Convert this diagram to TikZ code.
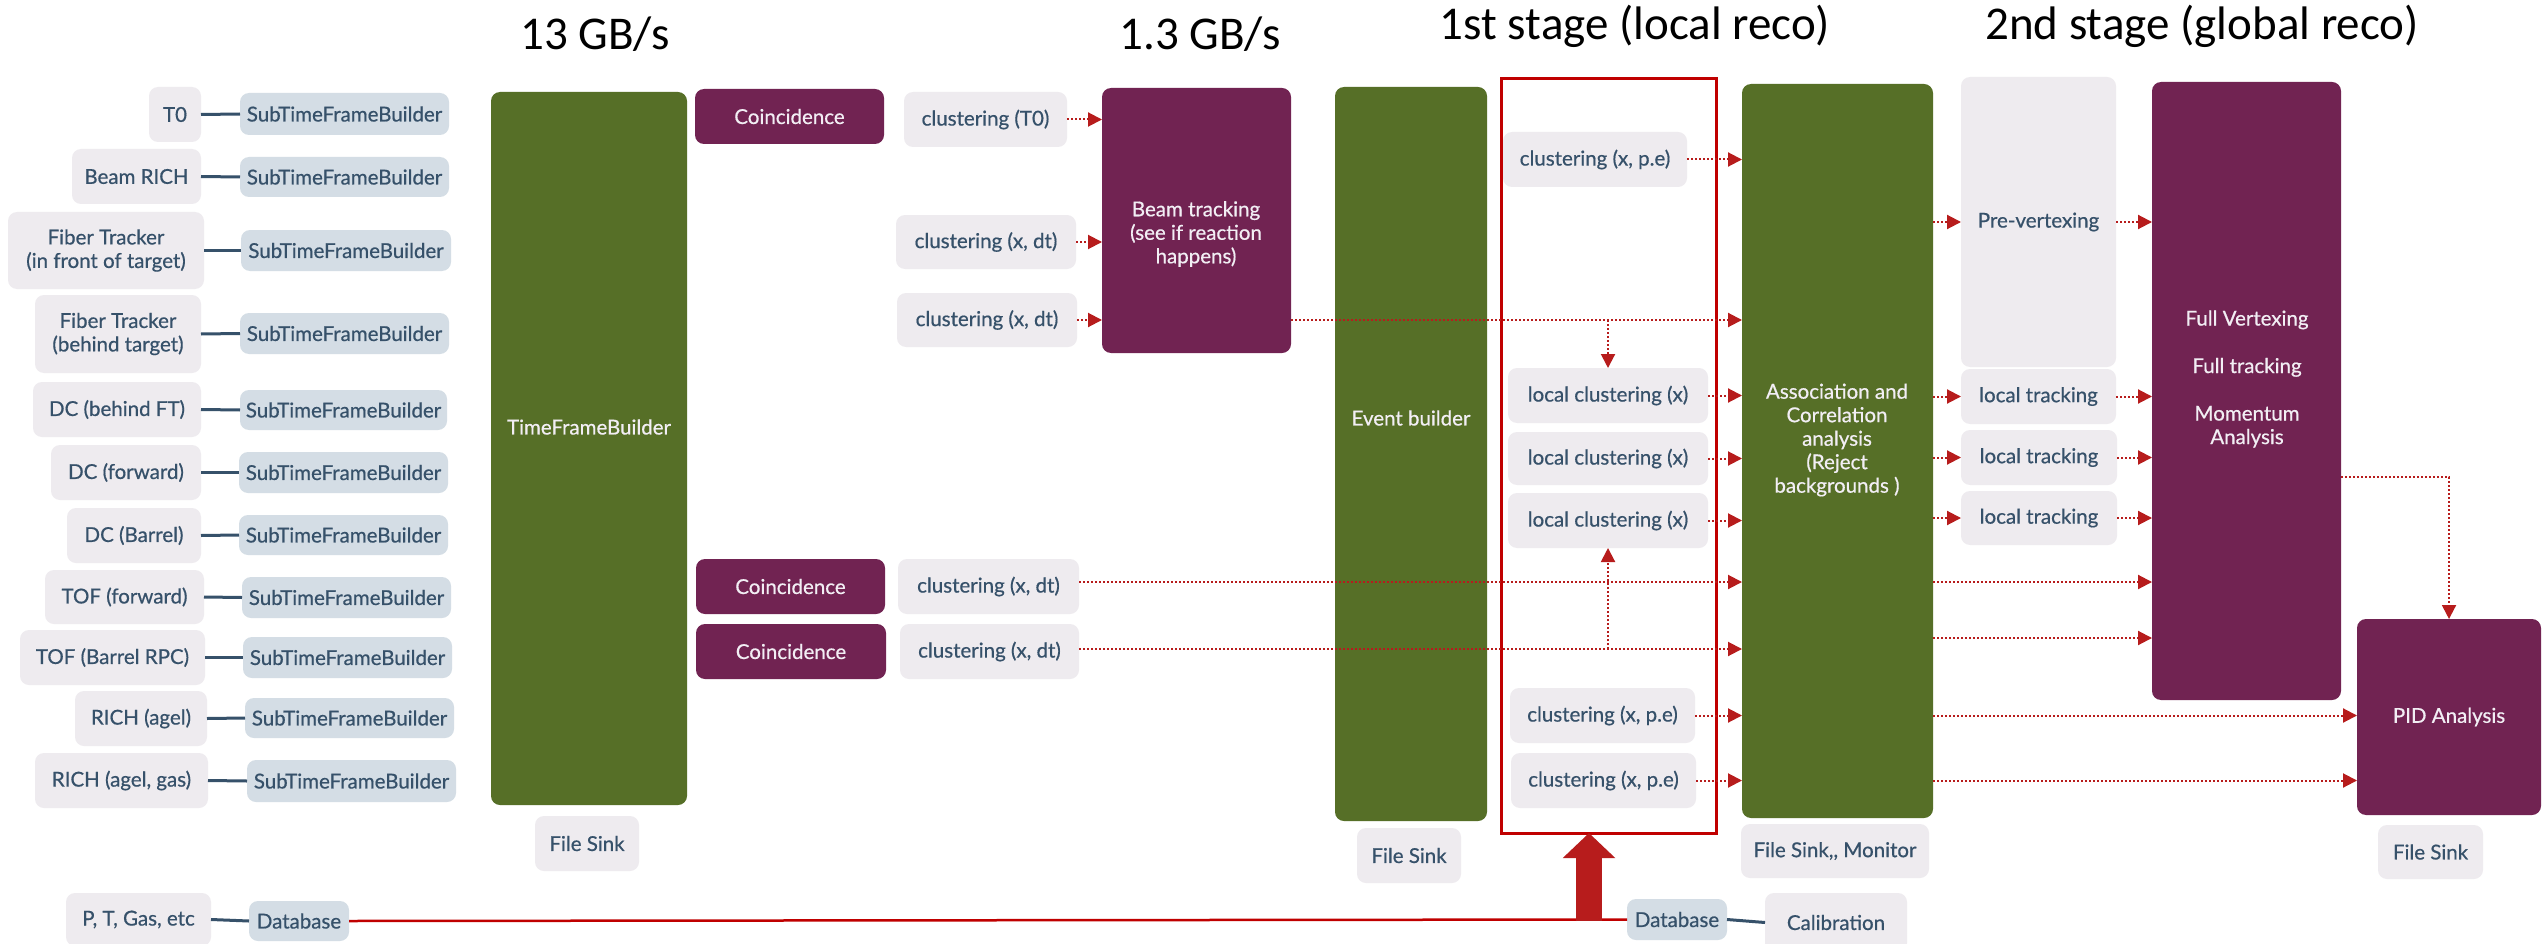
\documentclass[tikz,border=0pt]{standalone}
\usepackage{fontspec}
\usetikzlibrary{arrows.meta,calc}
\newfontfamily\boxfont[FakeBold=0.6]{Lato}
\newfontfamily\titlefont{Carlito}
\definecolor{cgreen}{HTML}{566F27}
\definecolor{cplum}{HTML}{712352}
\definecolor{cgray}{HTML}{EEEBEF}
\definecolor{cblue}{HTML}{D4DDE5}
\definecolor{cslate}{HTML}{36516A}
\definecolor{cred}{HTML}{B71C1C}
\definecolor{cframe}{HTML}{C00000}
\definecolor{cwhite}{HTML}{F2EEF4}
\tikzset{
  box/.style={rounded corners=9pt, inner sep=0pt, outer sep=0pt, align=center,
    font=\boxfont\fontsize{20.5}{23.5}\selectfont},
  lab/.style={box, fill=cgray, text=cslate},
  stf/.style={box, fill=cblue, text=cslate},
  grn/.style={box, fill=cgreen, text=cwhite},
  pur/.style={box, fill=cplum, text=cwhite},
  frame/.style={draw=cframe, line width=3pt, inner sep=0pt, outer sep=0pt},
  wtxt/.style={inner sep=0pt, align=center, text=cwhite,
    font=\boxfont\fontsize{20.5}{23.5}\selectfont},
  flow/.style={draw=cred, line width=2pt, dash pattern=on 2pt off 2pt,
    -{Triangle[length=14pt,width=14pt]}},
  link/.style={draw=cslate, line width=3pt},
  ttl/.style={font=\titlefont\fontsize{47}{56}\selectfont, anchor=base, inner sep=0pt},
}
% \blk{name}{x1}{y1}{x2}{y2}{style}{text}: box given by its corners
\newcommand\blk[7]{\node[#6, minimum width={(#4-#2)*1pt}, minimum height={(#5-#3)*1pt}]
  (#1) at ({(#2+#4)/2},{(#3+#5)/2}) {#7};}
\begin{document}
\begin{tikzpicture}[x=1pt,y=-1pt]
\useasboundingbox (0,0) rectangle (2542,944);
\fill[white] (0,0) rectangle (2542,944);

% column titles
\node[ttl] (t1) at (595,50) {13 GB/s};
\node[ttl] (t2) at (1200,50) {1.3 GB/s};
\node[ttl] (t3) at (1635,40) {1st stage (local reco)};
\node[ttl] (t4) at (2202,40) {2nd stage (global reco)};

% detectors
\blk{lT0}{149}{87}{201}{142}{lab}{T0}
\blk{lBR}{72}{149}{201}{204}{lab}{Beam RICH}
\blk{lFTf}{8}{212}{204}{289}{lab}{Fiber Tracker\\(in front of target)}
\blk{lFTb}{35}{295}{201}{373}{lab}{Fiber Tracker\\(behind target)}
\blk{lDCb}{33}{382}{201}{437}{lab}{DC (behind FT)}
\blk{lDCf}{51}{445}{201}{500}{lab}{DC (forward)}
\blk{lDCB}{67}{508}{201}{563}{lab}{DC (Barrel)}
\blk{lTOFf}{45}{570}{204}{624}{lab}{TOF (forward)}
\blk{lTOFB}{20}{630}{205}{685}{lab}{TOF (Barrel RPC)}
\blk{lRa}{75}{691}{207}{746}{lab}{RICH (agel)}
\blk{lRag}{35}{753}{208}{808}{lab}{RICH (agel, gas)}
\blk{lP}{66}{893}{211}{946}{lab}{P, T, Gas, etc}

% sub time frame builders
\blk{sT0}{240}{93}{449}{135}{stf}{SubTimeFrameBuilder}
\blk{sBR}{240}{157}{449}{197}{stf}{SubTimeFrameBuilder}
\blk{sFTf}{241}{230}{451}{271}{stf}{SubTimeFrameBuilder}
\blk{sFTb}{240}{313}{449}{354}{stf}{SubTimeFrameBuilder}
\blk{sDCb}{240}{390}{447}{430}{stf}{SubTimeFrameBuilder}
\blk{sDCf}{239}{452}{448}{493}{stf}{SubTimeFrameBuilder}
\blk{sDCB}{239}{515}{448}{555}{stf}{SubTimeFrameBuilder}
\blk{sTOFf}{242}{577}{451}{618}{stf}{SubTimeFrameBuilder}
\blk{sTOFB}{243}{637}{452}{678}{stf}{SubTimeFrameBuilder}
\blk{sRa}{245}{698}{454}{738}{stf}{SubTimeFrameBuilder}
\blk{sRag}{247}{760}{456}{802}{stf}{SubTimeFrameBuilder}
\blk{db1}{249}{901}{349}{941}{stf}{Database}

\foreach \d in {T0,BR,FTf,FTb,DCb,DCf,DCB,TOFf,TOFB,Ra,Rag}
  \draw[link] (l\d.east) -- (s\d.west);
\draw[link] (lP.east) -- (db1.west);

% time frame builder
\blk{tfb}{491}{92}{687}{805}{grn}{}
\node[wtxt] (tfb-t) at (589,427) {TimeFrameBuilder};
\blk{fs1}{535}{816}{639}{871}{lab}{File Sink}

% coincidence and clustering
\blk{co1}{695}{89}{884}{144}{pur}{Coincidence}
\blk{co2}{696}{559}{885}{614}{pur}{Coincidence}
\blk{co3}{696}{624}{886}{679}{pur}{Coincidence}
\blk{cT0}{904}{92}{1067}{147}{lab}{clustering (T0)}
\blk{cx1}{896}{215}{1076}{269}{lab}{clustering (x, dt)}
\blk{cx2}{897}{293}{1077}{347}{lab}{clustering (x, dt)}
\blk{cx3}{898}{559}{1079}{614}{lab}{clustering (x, dt)}
\blk{cx4}{900}{624}{1079}{679}{lab}{clustering (x, dt)}

% beam tracking
\blk{bt}{1102}{88}{1291}{353}{pur}{}
\node[wtxt] (bt-t) at (1196,234) {Beam tracking\\(see if reaction\\happens)};

% event builder
\blk{eb}{1335}{87}{1487}{821}{grn}{}
\node[wtxt] (eb-t) at (1411,418) {Event builder};
\blk{fs2}{1357}{828}{1461}{883}{lab}{File Sink}

% first stage
\blk{pe1}{1503}{132}{1687}{187}{lab}{clustering (x, p.e)}
\blk{lc1}{1508}{368}{1708}{423}{lab}{local clustering (x)}
\blk{lc2}{1508}{432}{1708}{485}{lab}{local clustering (x)}
\blk{lc3}{1508}{493}{1708}{548}{lab}{local clustering (x)}
\blk{pe2}{1510}{688}{1695}{743}{lab}{clustering (x, p.e)}
\blk{pe3}{1511}{753}{1696}{808}{lab}{clustering (x, p.e)}

% association
\blk{as}{1742}{84}{1933}{818}{grn}{}
\node[wtxt] (as-t) at (1837,440) {Association and\\Correlation\\analysis\\(Reject\\backgrounds )};
\blk{fsm}{1741}{824}{1929}{878}{lab}{File Sink,, Monitor}

% calibration
\blk{db2}{1627}{899}{1727}{940}{stf}{Database}
\blk{cal}{1765}{893}{1907}{952}{lab}{Calibration}
\draw[link] (db2.east) -- (cal.west);

% second stage
\blk{pv}{1961}{77}{2116}{367}{lab}{Pre-vertexing}
\blk{lt1}{1961}{369}{2116}{424}{lab}{local tracking}
\blk{lt2}{1961}{430}{2117}{485}{lab}{local tracking}
\blk{lt3}{1961}{491}{2117}{545}{lab}{local tracking}
\blk{fv}{2152}{82}{2341}{700}{pur}{}
\node[wtxt] (fv-t) at (2247,379) {Full Vertexing\\[24pt]Full tracking\\[24pt]Momentum\\Analysis};
\blk{pid}{2357}{619}{2541}{815}{pur}{PID Analysis}
\blk{fs3}{2378}{825}{2483}{879}{lab}{File Sink}

% first stage frame
\blk{stage1}{1501}{79}{1716}{833}{frame}{}

% levels of the free-running lines
\coordinate (r477) at (0,477);
\coordinate (r582) at (0,582);
\coordinate (r638) at (0,638);
\coordinate (r649) at (0,649);
\coordinate (thk) at (1589,921);

% flows into beam tracking
\draw[flow] (cT0.east) -- (cT0.east -| bt.west);
\draw[flow] (cx1.east) -- (cx1.east -| bt.west);
\draw[flow] (cx2.east) -- (cx2.east -| bt.west);

% flows into association
\draw[flow] (bt.east |- cx2.east) -- (cx2.east -| as.west);
\draw[flow] (lc1.north |- cx2.east) -- (lc1.north);
\draw[flow] (pe1.east) -- (pe1.east -| as.west);
\draw[flow] (lc1.east) -- (lc1.east -| as.west);
\draw[flow] (lc2.east) -- (lc2.east -| as.west);
\draw[flow] (lc3.east) -- (lc3.east -| as.west);
\draw[flow] (cx3.east |- r582) -- (as.west |- r582);
\draw[flow] (cx4.east |- r649) -- (as.west |- r649);
\draw[flow] (lc3.south |- r649) -- (lc3.south);
\draw[flow] (pe2.east) -- (pe2.east -| as.west);
\draw[flow] (pe3.east) -- (pe3.east -| as.west);

% flows into the second stage
\draw[flow] (as.east |- pv.west) -- (pv.west);
\draw[flow] (as.east |- lt1.west) -- (lt1.west);
\draw[flow] (as.east |- lt2.west) -- (lt2.west);
\draw[flow] (as.east |- lt3.west) -- (lt3.west);
\draw[flow] (pv.east) -- (pv.east -| fv.west);
\draw[flow] (lt1.east) -- (lt1.east -| fv.west);
\draw[flow] (lt2.east) -- (lt2.east -| fv.west);
\draw[flow] (lt3.east) -- (lt3.east -| fv.west);
\draw[flow] (as.east |- r582) -- (fv.west |- r582);
\draw[flow] (as.east |- r638) -- (fv.west |- r638);
\draw[flow] (as.east |- pe2.east) -- (pid.west |- pe2.east);
\draw[flow] (as.east |- pe3.east) -- (pid.west |- pe3.east);
\draw[flow] (fv.east |- r477) -| (pid.north);

% database feed to the first stage
\draw[draw=cframe, line width=2.5pt] (db1.east) -- (db2.west);
\draw[draw=cred, line width=26pt, -{Triangle[length=25pt,width=51pt]}]
  (thk) -- (thk |- stage1.south);
\end{tikzpicture}
\end{document}
